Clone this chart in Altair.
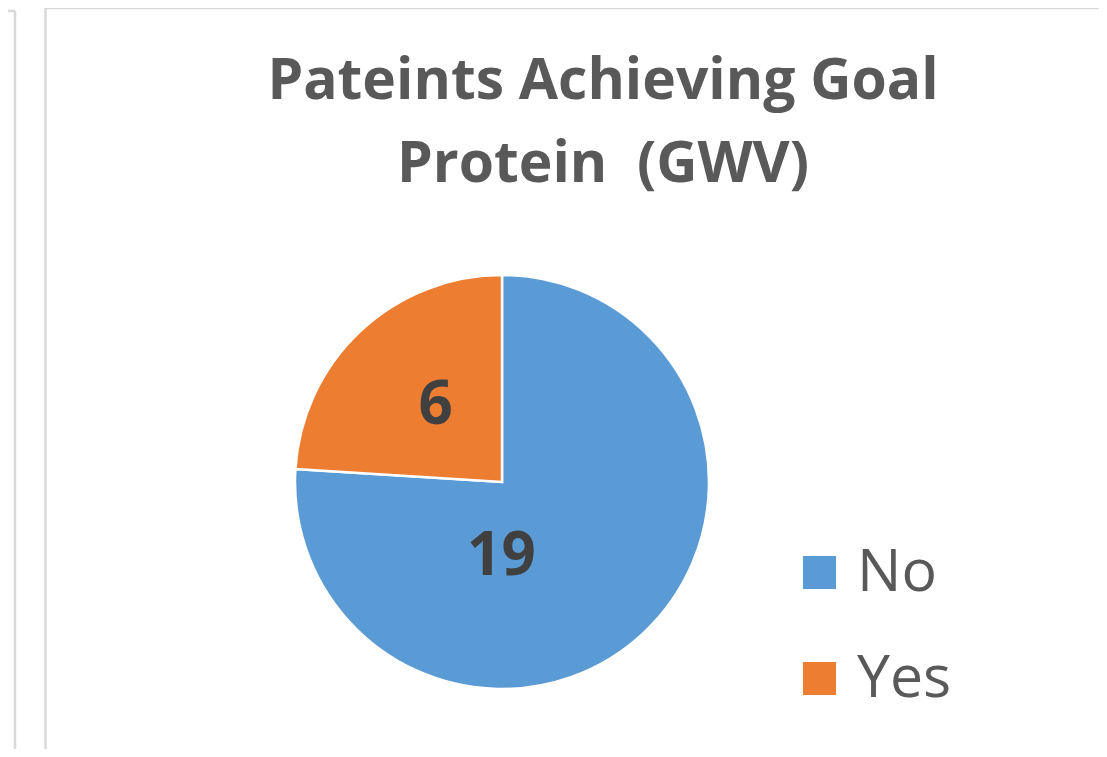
import altair as alt
import pandas as pd

answers = ["No", "Yes"]
counts = [19, 6]
slice_order = [0, 1]
colors = ["#5B9BD5", "#ED7D31"]
title_lines = ["Pateints Achieving Goal", "Protein\u00a0 (GWV)"]

FONT = "Open Sans, sans-serif"
W, H = 1091, 741
CX, CY, R = 494, 474, 207

df = pd.DataFrame({"answer": answers, "count": counts, "ord": slice_order})

base = alt.Chart(df).encode(
    theta=alt.Theta("count:Q", stack=True),
    order=alt.Order("ord:Q"),
    x=alt.value(CX),
    y=alt.value(CY),
)

color = alt.Color(
    "answer:N",
    scale=alt.Scale(domain=answers, range=colors),
    legend=alt.Legend(
        title=None,
        orient="none",
        legendX=782,
        legendY=535,
        symbolType="square",
        symbolSize=1090,
        symbolStrokeWidth=0,
        labelFont=FONT,
        labelFontSize=59,
        labelColor="#595959",
        labelOffset=8,
        rowPadding=46,
    ),
)

pie = base.mark_arc(outerRadius=R, stroke="white", strokeWidth=2.5).encode(color=color)

lab_small = base.mark_text(radius=97, font=FONT, fontSize=60, fontWeight="bold",
                           color="#404040", baseline="middle", align="center", dy=-5).encode(
    text="count:Q",
    opacity=alt.condition(alt.datum.answer == "Yes", alt.value(1), alt.value(0)),
)

lab_big = base.mark_text(
    radius=78, font=FONT, fontSize=60, fontWeight="bold",
    color="#404040", baseline="middle", align="center", dx=-54, dy=18).encode(
    text="count:Q",
    opacity=alt.condition(alt.datum.answer == "No", alt.value(1), alt.value(0)),
)

one = alt.Data(values=[{"k": 1}])

title = alt.Chart(one).mark_text(
    font=FONT, fontSize=57, fontWeight="bold", color="#595959",
    align="center", baseline="alphabetic", lineHeight=83,
).encode(x=alt.value(595), y=alt.value(91), text=alt.value(title_lines))

border_col = "#D9D9D9"
b1 = alt.Chart(one).mark_rule(color=border_col, strokeWidth=2.5).encode(
    x=alt.value(7), y=alt.value(3), y2=alt.value(H))
b2 = alt.Chart(one).mark_rule(color=border_col, strokeWidth=2.5).encode(
    x=alt.value(0), x2=alt.value(7), y=alt.value(3))
b3 = alt.Chart(one).mark_rule(color=border_col, strokeWidth=2.5).encode(
    x=alt.value(37.5), y=alt.value(0), y2=alt.value(H))
b4 = alt.Chart(one).mark_rule(color=border_col, strokeWidth=2.5).encode(
    x=alt.value(37.5), x2=alt.value(W), y=alt.value(0))

chart = alt.layer(b1, b2, b3, b4, title, pie, lab_small, lab_big).properties(
    width=W, height=H, padding=0, autosize=alt.AutoSizeParams(type="none"),
    background="white",
).configure_view(stroke=None)

chart.save("out.html", embed_options={"renderer": "svg", "actions": False})
